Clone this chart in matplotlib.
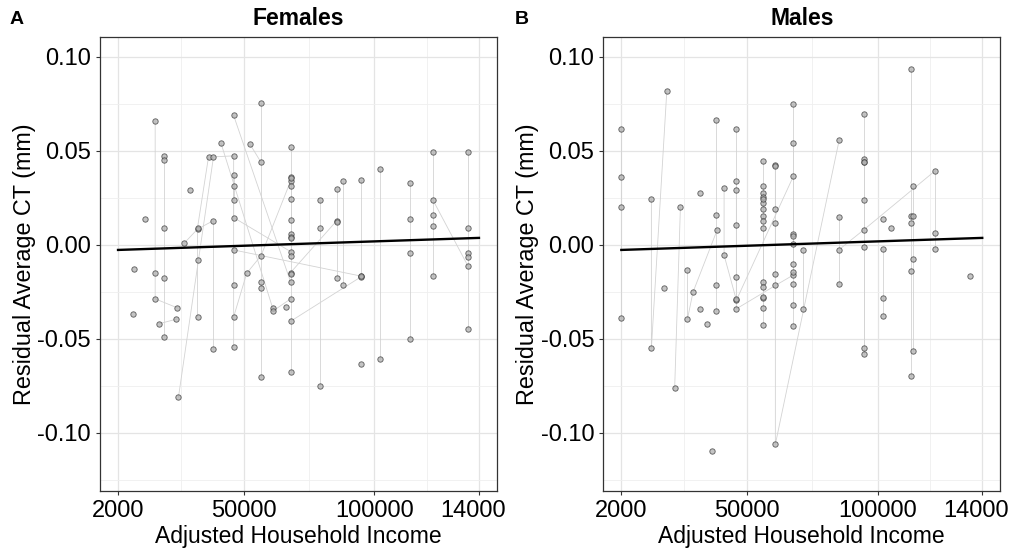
import numpy as np
import matplotlib
matplotlib.use('Agg')
import matplotlib.pyplot as plt
import matplotlib.transforms as mtransforms

plt.rcParams['font.family'] = ['Liberation Sans', 'DejaVu Sans']
plt.rcParams['axes.unicode_minus'] = False

# Females: subject id, adjusted household income, residual average CT (mm)
fem_id = [1, 1, 1, 1, 2, 2, 2, 2, 2, 3, 3, 4, 5, 6,
          7, 7, 7, 7, 8, 8, 8, 8, 9, 9, 9, 9, 10, 10, 11, 11, 11,
          12, 12, 12, 13, 13, 13, 13, 14, 14, 15, 16, 16, 17, 17,
          18, 18, 18, 18, 19, 19, 20, 20, 21, 21, 22, 22, 23, 23, 23,
          24, 24, 25, 25, 26, 26, 27, 28, 28, 28, 29, 29, 29, 30, 30,
          31, 31, 32, 33, 33, 34, 34, 34, 34, 35, 35, 35, 35, 36, 36,
          37, 37, 37, 37, 37, 38]
fem_inc = [16200, 16200, 16200, 24700, 19600, 19600, 19600, 19600, 19600, 17800, 24300, 8100, 7600, 12300,
           27300, 32400, 38500, 38500, 36600, 32400, 32400, 32400, 25100, 38500, 46200, 46200, 46200, 46200, 46200, 46200, 68000,
           46200, 46200, 94900, 46200, 51200, 56700, 68000, 46200, 68000, 29400, 41400, 61100, 52500, 56700,
           56700, 56700, 56700, 56700, 68000, 68000, 68000, 68000, 68000, 68000, 68000, 68000, 68000, 68000, 68000,
           68000, 85600, 68000, 94900, 61100, 68000, 66200, 79100, 79100, 79100, 85600, 85600, 85600, 88100, 88100,
           94900, 94900, 94900, 102100, 102100, 113700, 113700, 113700, 113700, 122300, 122300, 122300, 122300, 122300, 135700,
           135700, 135700, 135700, 135700, 135700, 68000]
fem_ct = [0.0658, -0.0151, -0.0287, -0.0335, 0.0473, 0.0451, 0.0087, -0.0176, -0.0489, -0.0419, -0.0395, -0.0126, -0.0365, 0.0140,
          0.0009, 0.0084, 0.0129, -0.0555, 0.0468, 0.0092, -0.0080, -0.0383, -0.0810, 0.0468, 0.0473, -0.0544, 0.0372, 0.0236, 0.0314, 0.0145, -0.0036,
          -0.0211, -0.0027, -0.0166, -0.0383, -0.0151, -0.0057, 0.0340, 0.0688, -0.0198, 0.0294, 0.0539, -0.0335, 0.0534, 0.0438,
          0.0754, -0.0198, -0.0229, -0.0704, 0.0521, -0.0674, 0.0362, 0.0246, 0.0353, 0.0133, 0.0314, 0.0057, 0.0044, 0.0037, -0.0057,
          -0.0147, 0.0128, -0.0406, -0.0170, -0.0353, -0.0287, -0.0330, 0.0241, 0.0087, -0.0752, 0.0299, 0.0122, -0.0177, 0.0342, -0.0211,
          0.0347, -0.0163, -0.0633, 0.0403, -0.0608, 0.0330, 0.0140, -0.0044, -0.0502, 0.0491, 0.0158, 0.0099, -0.0166, 0.0241, -0.0110,
          0.0496, 0.0087, -0.0044, -0.0062, -0.0448, -0.0153]

# Males
mal_id = [1, 1, 1, 1, 2, 2, 2, 3, 3, 4, 4, 4, 4, 5, 6, 7, 8, 9,
          10, 10, 10, 10, 11, 11, 11, 11, 12, 12, 12, 12, 13, 13, 13, 13, 13,
          14, 14, 15, 15, 16, 16, 17, 17, 18, 18, 19, 19, 20, 20, 21, 21,
          22, 22, 22, 23, 23, 24, 24, 25, 25, 26, 26, 27, 27, 28, 28, 29, 29,
          30, 30, 31, 31, 32, 32, 32, 32, 33, 33, 34, 34, 35, 35, 36, 36,
          37, 38, 38, 38, 39, 40, 40, 40, 40, 40, 41, 41, 41, 41, 42, 43]
mal_inc = [2000, 2000, 2000, 2000, 13500, 13500, 19400, 22400, 24600, 27300, 27300, 29400, 38700, 18200, 32200, 32200, 34900, 36500,
           38300, 38300, 38300, 38300, 41300, 41300, 46000, 67800, 46000, 46000, 46000, 46000, 46000, 46000, 46000, 60900, 67800,
           56300, 56300, 56300, 56300, 56300, 56300, 56300, 56300, 56300, 56300, 56300, 56300, 56300, 56300, 56300, 56300,
           60900, 60900, 85300, 60900, 60900, 60900, 60900, 67800, 67800, 67800, 67800, 67800, 67800, 67800, 67800, 67800, 67800,
           71600, 71600, 85300, 85300, 85300, 94800, 122100, 122100, 94800, 94800, 94800, 94800, 94800, 94800, 94800, 94800,
           102100, 102100, 102100, 102100, 105200, 112700, 112700, 112700, 112700, 112700, 113600, 113600, 113600, 113600, 122100, 135400]
mal_ct = [0.0617, 0.0362, 0.0201, -0.0390, 0.0243, -0.0549, 0.0819, -0.0762, 0.0201, -0.0133, -0.0394, -0.0252, 0.0081, -0.0227, 0.0273, -0.0342, -0.0419, -0.1096,
          0.0665, 0.0160, -0.0211, -0.0353, 0.0302, -0.0055, -0.0294, 0.0365, 0.0614, 0.0289, -0.0169, -0.0289, 0.0342, 0.0105, -0.0340, -0.0216, -0.0160,
          0.0445, -0.0424, 0.0314, 0.0225, 0.0275, 0.0154, 0.0257, -0.0198, 0.0246, 0.0129, 0.0190, -0.0284, 0.0087, -0.0222, -0.0275, -0.0335,
          0.0424, -0.1060, 0.0557, 0.0420, 0.0188, 0.0117, -0.0156, 0.0748, -0.0431, 0.0544, 0.0059, 0.0046, -0.0103, 0.0004, -0.0144, -0.0206, -0.0318,
          -0.0025, -0.0342, 0.0147, -0.0209, -0.0025, 0.0081, 0.0395, -0.0020, 0.0693, -0.0580, 0.0456, 0.0241, 0.0443, -0.0009, 0.0438, -0.0549,
          0.0135, -0.0020, -0.0282, -0.0378, 0.0092, 0.0936, 0.0153, 0.0117, -0.0138, -0.0698, 0.0312, 0.0153, -0.0073, -0.0562, 0.0064, -0.0163]

# fitted line (same in both panels)
fit_inc = [2000, 140000]
fem_fit = [-0.0027, 0.0037]
mal_fit = [-0.0027, 0.0037]

x_breaks = [2000, 50000, 100000, 140000]
x_labels = ['2000', '50000', '100000', '14000']  # last label is cut in the original
x_minor = [26000, 75000, 120000]
y_breaks = [-0.10, -0.05, 0.00, 0.05, 0.10]
y_labels = ['-0.10', '-0.05', '0.00', '0.05', '0.10']
y_minor = [-0.125, -0.075, -0.025, 0.025, 0.075]


def draw_panel(ax, sid, inc, ct, fit, title):
	sid = np.array(sid)
	inc = np.array(inc, dtype=float)
	ct = np.array(ct, dtype=float)
	# one grey line per subject
	for s in np.unique(sid):
		m = sid == s
		if m.sum() > 1:
			ax.plot(inc[m], ct[m], color='#d3d3d3', lw=0.6, zorder=2)
	ax.scatter(inc, ct, s=15, facecolor='#b0b0b0', edgecolor='#3a3a3a', linewidths=0.65, alpha=0.75, zorder=3)
	ax.plot(fit_inc, fit, color='black', lw=1.7, zorder=4)

	ax.set_xlim(-4900, 146900)
	ax.set_ylim(-0.1307, 0.1105)
	ax.set_xticks(x_breaks)
	ax.set_xticklabels(x_labels)
	ax.set_xticks(x_minor, minor=True)
	ax.set_yticks(y_breaks)
	ax.set_yticklabels(y_labels)
	ax.set_yticks(y_minor, minor=True)
	ax.set_axisbelow(True)
	ax.grid(which='major', color='#e4e4e4', lw=0.9)
	ax.grid(which='minor', color='#efefef', lw=0.6)
	ax.tick_params(which='major', length=3, width=0.8, color='#333333', labelsize=17, labelcolor='black', pad=3.5)
	ax.tick_params(which='minor', length=0)
	for sp in ax.spines.values():
		sp.set_color('#333333')
		sp.set_linewidth(0.9)
	ax.set_title(title, fontsize=16.5, fontweight='bold', pad=8.5)
	ax.set_xlabel('Adjusted Household Income', fontsize=16.5, labelpad=2)
	ax.set_ylabel('Residual Average CT (mm)', fontsize=16.8, labelpad=1)

	# the clipped last label sits a little left of its tick
	lab = ax.xaxis.get_major_ticks()[-1].label1
	lab.set_transform(lab.get_transform() + mtransforms.ScaledTranslation(-0.06, 0, ax.figure.dpi_scale_trans))


fig = plt.figure(figsize=(10.11, 5.52), dpi=100)
ax1 = fig.add_axes([0.0989, 0.1110, 0.3927, 0.8220])
ax2 = fig.add_axes([0.5967, 0.1110, 0.3927, 0.8220])

draw_panel(ax1, fem_id, fem_inc, fem_ct, fem_fit, 'Females')
draw_panel(ax2, mal_id, mal_inc, mal_ct, mal_fit, 'Males')

fig.text(10 / 1011, 1 - 23.5 / 552, 'A', fontsize=14, fontweight='bold', va='baseline', ha='left')
fig.text(515 / 1011, 1 - 23.5 / 552, 'B', fontsize=14, fontweight='bold', va='baseline', ha='left')

fig.savefig('out.png', dpi=100)
